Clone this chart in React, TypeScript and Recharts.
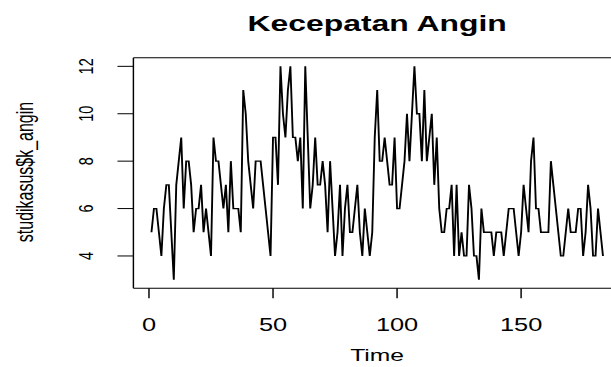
import { LineChart, Line, XAxis, YAxis } from "recharts";

// wind speed, one reading per time step (t = 1 .. 183)
const speeds = [
  5, 6, 6, 5, 4, 6, 7, 7, 5, 3, 7, 8, 9, 6, 8, 8, 7, 5, 6, 6, 7, 5, 6, 5,
  4, 9, 8, 8, 7, 6, 7, 5, 8, 6, 6, 6,
  5, 11, 10, 8, 7, 6, 8, 8, 8, 7, 6, 5, 4, 9, 9, 7, 12, 10, 9, 11, 12, 9, 9, 8, 9, 6, 12, 9, 6, 7, 9,
  7, 7, 8, 7, 5, 8, 6, 4, 5, 7, 4, 6, 7, 5, 5, 6, 7, 5, 4, 6, 5, 4, 5, 9,
  11, 8, 8, 9, 8, 7, 7, 9, 6, 6, 7, 8, 10, 8, 10, 12, 10, 10, 8, 11, 8, 9, 10, 7, 9, 6, 5, 5, 6, 6, 7, 4,
  7, 4, 5, 4, 4, 7, 6, 4, 4, 3, 6, 5, 5, 5, 5, 4, 5, 5, 5, 4, 5, 6, 6, 6, 5, 4, 5, 7, 6, 5, 8, 9,
  6, 6, 5, 5, 5, 5, 8, 7, 6, 5, 4, 4, 5, 6, 5, 5, 5, 6, 6, 4, 5, 7, 6, 4, 4, 6, 5, 4,
];
const xTicks = [0, 50, 100, 150];
const yTicks = [4, 6, 8, 10, 12];

const data = speeds.map((v, i) => ({ t: i + 1, v }));

// the reference picture is stretched sideways, so draw narrow and scale x
const SX = 1.45;
const W = 440;
const H = 367;
const FONT = '"Liberation Sans", Arial, Helvetica, sans-serif';

function XTick(props: any) {
  const { x, payload } = props;
  return (
    <text x={x} y={331} textAnchor="middle" fontSize={17.5} fontFamily={FONT} fill="#000">
      {payload.value}
    </text>
  );
}

function YTick(props: any) {
  const { y, payload } = props;
  return (
    <text
      transform={`translate(64.4,${y}) rotate(-90)`}
      textAnchor="middle"
      fontSize={14.5}
      fontFamily={FONT}
      fill="#000"
    >
      {payload.value}
    </text>
  );
}

export default function App() {
  return (
    <div style={{ position: "absolute", left: 0, top: 0, width: 611, height: 367, overflow: "hidden", background: "#fff" }}>
      <div style={{ position: "relative", width: W, height: H, transform: `scaleX(${SX})`, transformOrigin: "0 0" }}>
        <LineChart width={W} height={H} data={data} margin={{ top: 57.8, right: 11.7, bottom: 48.8, left: 32 }}>
          <XAxis
            dataKey="t"
            type="number"
            domain={[-6.28, 190.28]}
            ticks={xTicks}
            interval={0}
            allowDataOverflow
            height={30}
            tickSize={10}
            tick={<XTick />}
            axisLine={{ stroke: "#000" }}
            tickLine={{ stroke: "#000" }}
          />
          <YAxis
            type="number"
            domain={[2.64, 12.36]}
            ticks={yTicks}
            interval={0}
            allowDataOverflow
            width={60}
            tickSize={11}
            tick={<YTick />}
            axisLine={{ stroke: "#000" }}
            tickLine={{ stroke: "#000" }}
          />
          <Line
            type="linear"
            dataKey="v"
            stroke="#000"
            strokeWidth={1.3}
            dot={false}
            isAnimationActive={false}
          />
        </LineChart>
        <svg
          width={W}
          height={H}
          style={{ position: "absolute", left: 0, top: 0, pointerEvents: "none" }}
        >
          <line x1={92} x2={W} y1={57.8} y2={57.8} stroke="#000" />
          <text x={260.1} y={31} textAnchor="middle" fontSize={22} fontWeight="bold" fontFamily={FONT} fill="#000">
            Kecepatan Angin
          </text>
          <text x={260.1} y={361} textAnchor="middle" fontSize={17} fontFamily={FONT} fill="#000">
            Time
          </text>
          <text
            transform="translate(23,172) rotate(-90)"
            textAnchor="middle"
            fontSize={16}
            fontFamily={FONT}
            fill="#000"
          >
            studikasus$k_angin
          </text>
        </svg>
      </div>
    </div>
  );
}
